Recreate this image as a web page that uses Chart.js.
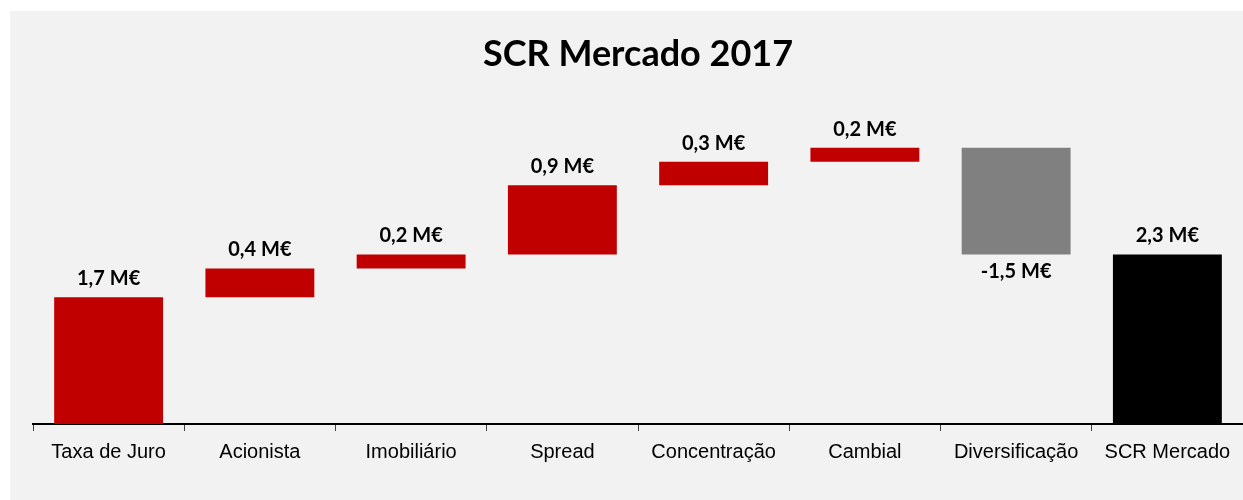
<!DOCTYPE html>
<html>
<head>
<meta charset="utf-8">
<script src="https://cdn.jsdelivr.net/npm/chart.js@4"></script>
<style>
  body { margin: 0; background: #fff; }
  #panel { position: absolute; left: 10px; top: 11px; width: 1233px; height: 489px; background: #f2f2f2; }
</style>
</head>
<body>
<div id="panel"><canvas id="myChart" width="1233" height="489"></canvas></div>
<script>
// waterfall: SCR Mercado 2017 (M€)
const categories = ['Taxa de Juro', 'Acionista', 'Imobiliário', 'Spread', 'Concentração', 'Cambial', 'Diversificação', 'SCR Mercado']
const deltas = [1.72, 0.39, 0.19, 0.94, 0.32, 0.19, -1.45]
const total = 2.30
const valueLabels = ['1,7 M€', '0,4 M€', '0,2 M€', '0,9 M€', '0,3 M€', '0,2 M€', '-1,5 M€', '2,3 M€']
const colors = ['#c00000', '#c00000', '#c00000', '#c00000', '#c00000', '#c00000', '#808080', '#000000']

// build floating bars [start, end]
const bars = []
let run = 0
deltas.forEach(d => {
    bars.push([run, run + d])
    run += d
})
bars.push([0, total])

const labelPlugin = {
    id: 'valueLabels',
    afterDatasetsDraw(chart) {
        const ctx = chart.ctx
        const meta = chart.getDatasetMeta(0)
        ctx.save()
        ctx.font = 'bold 20px Lato'
        ctx.fillStyle = '#000'
        ctx.textAlign = 'center'
        ctx.textBaseline = 'alphabetic'
        meta.data.forEach((bar, i) => {
            const top = Math.min(bar.y, bar.base)
            const bottom = Math.max(bar.y, bar.base)
            const neg = bars[i][1] < bars[i][0]
            if (neg) ctx.fillText(valueLabels[i], bar.x, bottom + 24)
            else ctx.fillText(valueLabels[i], bar.x, top - 12)
        })
        ctx.restore()
    }
}

const ctx = document.getElementById('myChart').getContext('2d')
const myChart = new Chart(ctx, {
    type: 'bar',
    data: {
        labels: categories,
        datasets: [{
            data: bars,
            backgroundColor: colors,
            borderWidth: 0,
            barPercentage: 0.72,
            categoryPercentage: 1
        }]
    },
    options: {
        responsive: false,
        animation: false,
        layout: { padding: { left: 23, right: 0, top: 0, bottom: 27 } },
        plugins: {
            legend: { display: false },
            tooltip: { enabled: false },
            title: {
                display: true,
                text: 'SCR Mercado 2017',
                color: '#000',
                font: { family: 'Lato', size: 36, weight: 'bold', lineHeight: 1.2 },
                padding: { top: 22, bottom: 53 }
            }
        },
        scales: {
            x: {
                grid: { offset: true, drawOnChartArea: false, drawTicks: true, tickLength: 7, color: '#404040' },
                border: { display: true, color: '#000', width: 2 },
                ticks: { color: '#000', font: { family: 'Liberation Sans', size: 20 }, padding: 9 }
            },
            y: {
                display: false,
                min: 0,
                max: 4.0
            }
        }
    },
    plugins: [labelPlugin]
})
</script>
</body>
</html>
